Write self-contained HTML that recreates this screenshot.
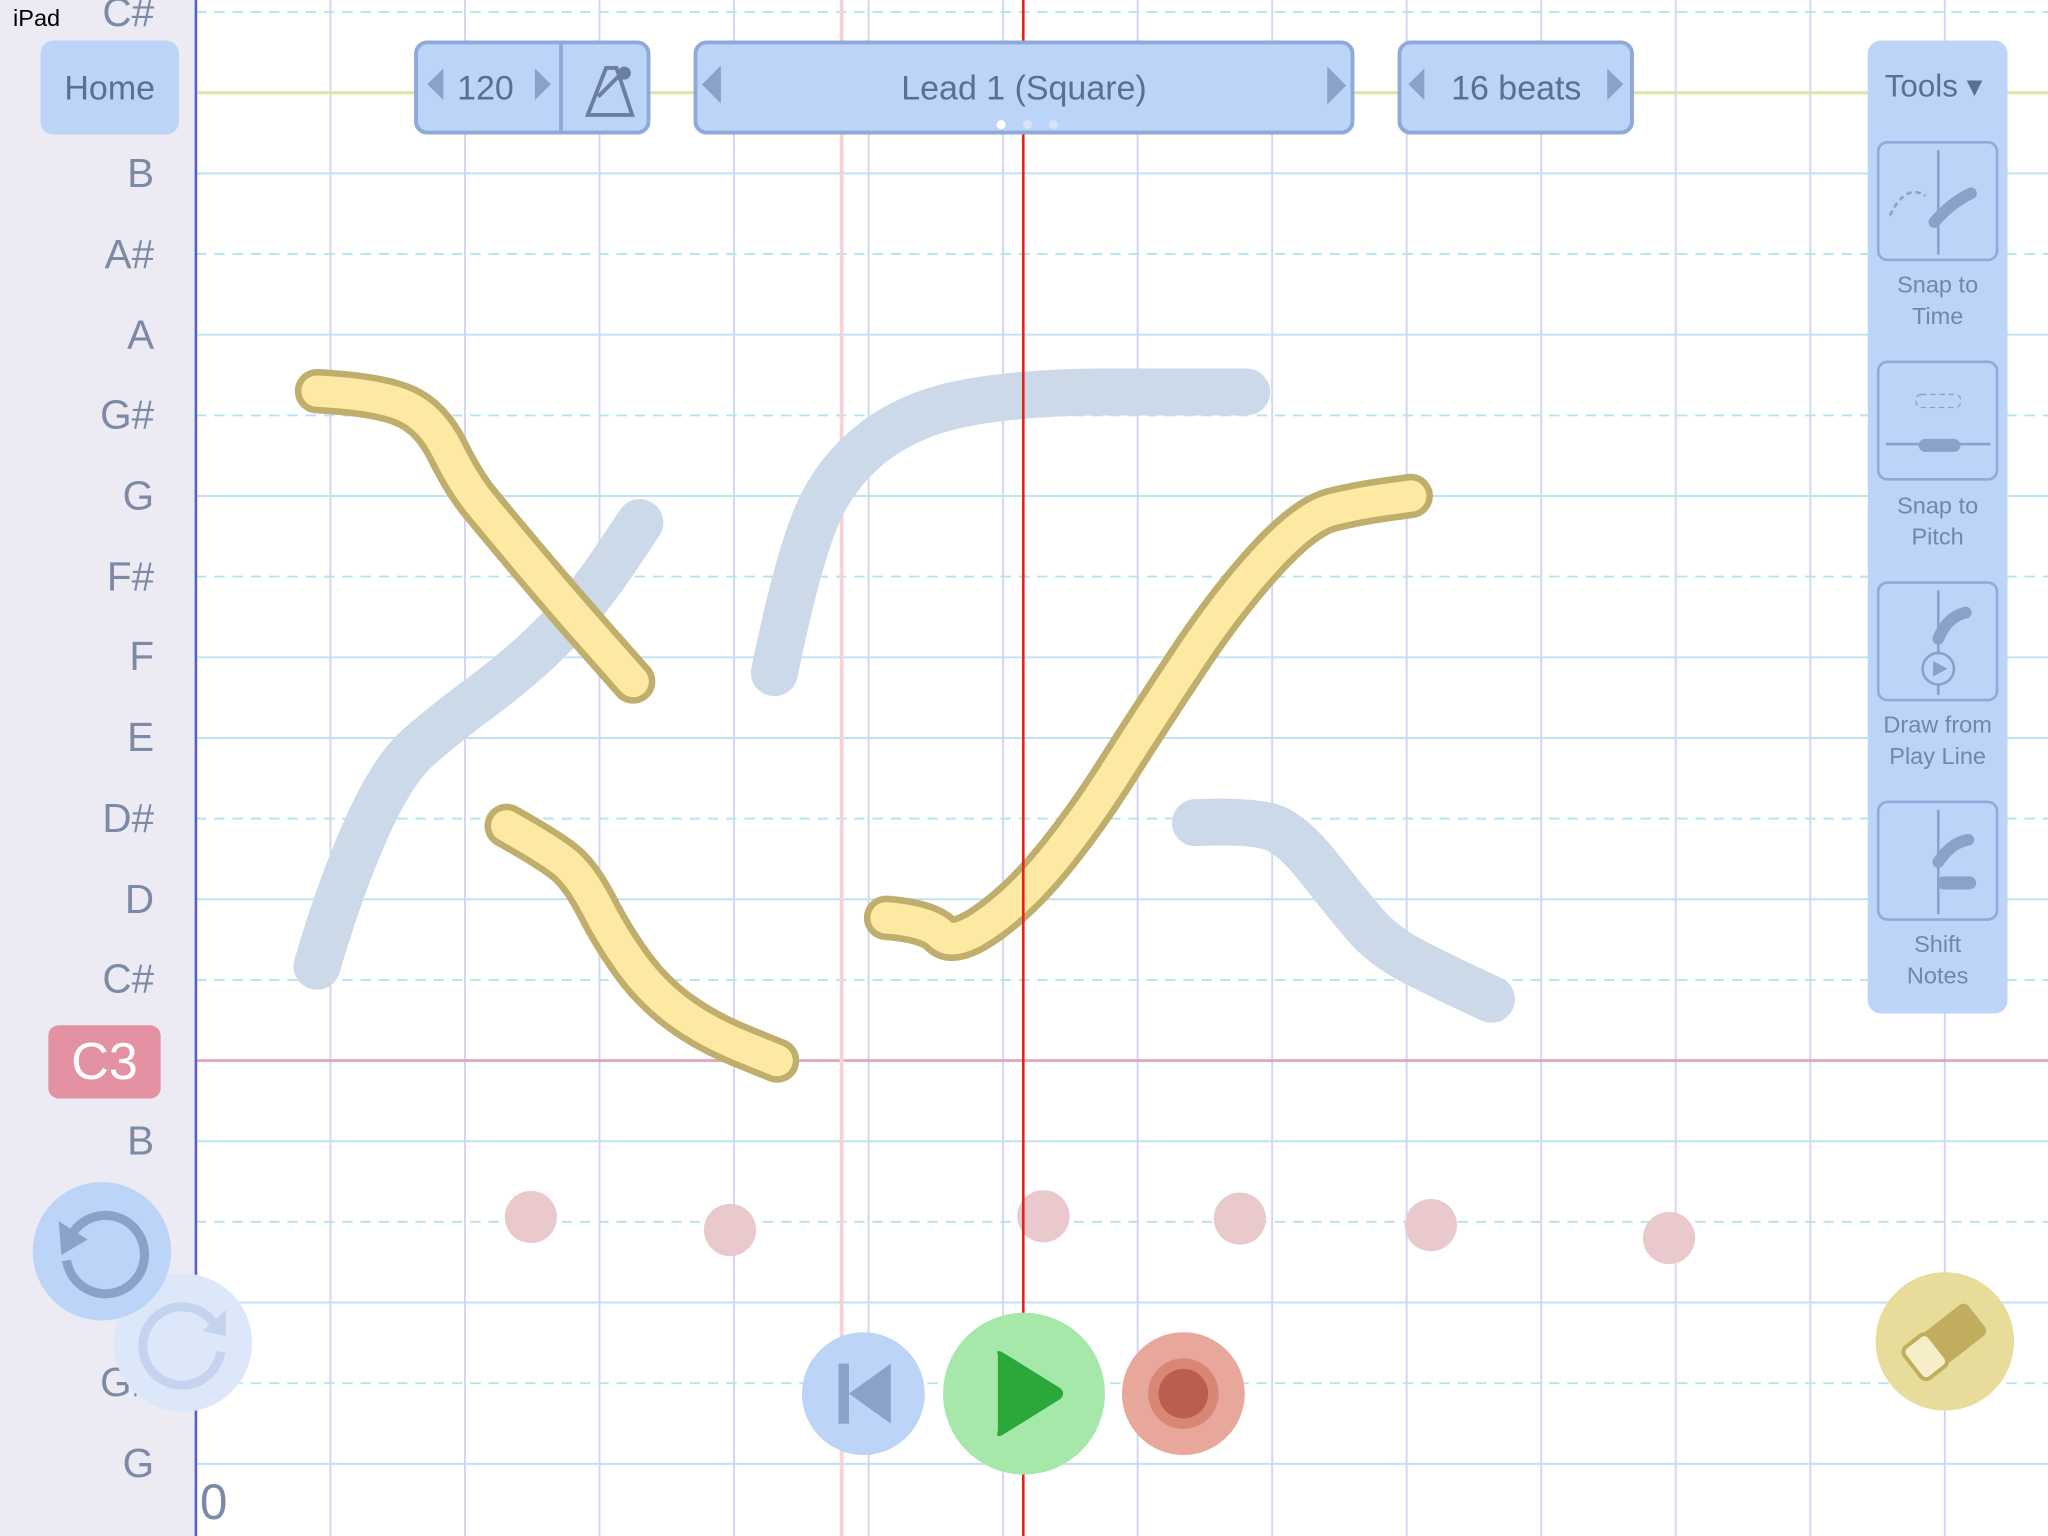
<!DOCTYPE html>
<html><head><meta charset="utf-8">
<style>
html,body{margin:0;padding:0;width:2048px;height:1536px;overflow:hidden;background:#fff;}
#wrap{position:absolute;left:0;top:0;width:1568px;height:1176px;transform:scale(1.306122);transform-origin:0 0;font-family:"Liberation Sans","DejaVu Sans",sans-serif;}
.abs{position:absolute;}
.lbl{position:absolute;right:1450px;font-size:31px;color:#7d8aa6;text-align:right;width:100px;}
.btn{position:absolute;background:#bcd4f8;border:3px solid #8fa9d8;border-radius:10px;box-sizing:border-box;color:#5b6f8f;font-size:26px;}
.tool{position:absolute;left:1437px;width:93px;height:92px;border:2px solid #8fa9d8;border-radius:8px;box-sizing:border-box;}
.tt{position:absolute;left:1430px;width:107px;text-align:center;font-size:18px;color:#7088ac;line-height:24px;}
</style></head><body>
<div id="wrap">
<svg id="chart" class="abs" style="left:0;top:0" width="1568" height="1176">
  <rect x="0" y="0" width="150" height="1176" fill="#eceaf3"/>
  <g id="grid"></g>
  <g id="strokes"></g>
  <g id="dots"></g>
  <line x1="150" y1="0" x2="150" y2="1176" stroke="#5a5fd0" stroke-width="2"/>
</svg>

<div class="abs" style="left:10px;top:4px;font-size:18px;color:#000">iPad</div>

<div class="btn" style="left:31px;top:31px;width:106px;height:72px;border:none;text-align:center;line-height:72px;">Home</div>

<div class="lbl" style="top:-8px">C#</div>
<div class="lbl" style="top:115px">B</div>
<div class="lbl" style="top:177px">A#</div>
<div class="lbl" style="top:239px">A</div>
<div class="lbl" style="top:300px">G#</div>
<div class="lbl" style="top:362px">G</div>
<div class="lbl" style="top:424px">F#</div>
<div class="lbl" style="top:485px">F</div>
<div class="lbl" style="top:547px">E</div>
<div class="lbl" style="top:609px">D#</div>
<div class="lbl" style="top:671px">D</div>
<div class="lbl" style="top:732px">C#</div>
<div class="abs" style="left:37px;top:785px;width:86px;height:56px;background:#e391a3;border-radius:8px;color:#fff;font-size:40px;text-align:center;line-height:56px;">C3</div>
<div class="lbl" style="top:856px">B</div>
<div class="lbl" style="top:1041px">G#</div>
<div class="lbl" style="top:1103px">G</div>
<div class="abs" style="left:153px;top:1130px;font-size:38px;color:#7d8aa6">0</div>

<div class="abs" style="left:87px;top:975px;width:106px;height:106px;border-radius:53px;background:#dce7fa;">
 <svg width="106" height="106"><path d="M78 40 A30 30 0 1 0 82 60" fill="none" stroke="#c5d4ee" stroke-width="7"/><path d="M86 28 L86 48 L68 44Z" fill="#c5d4ee"/></svg></div>
<div class="abs" style="left:25px;top:905px;width:106px;height:106px;border-radius:53px;background:#bcd4f8;">
 <svg width="106" height="106"><path d="M30 40 A30 30 0 1 1 26 60" fill="none" stroke="#8aa2ca" stroke-width="7"/><path d="M20 30 L22 56 L42 44Z" fill="#8aa2ca"/></svg></div>

<div class="btn" style="left:317px;top:31px;width:181px;height:72px;">
 <span class="abs" style="left:6px;top:12px;font-size:34px;color:#8aa2ca">⏴</span>
 <span class="abs" style="left:30px;top:18px">120</span>
 <span class="abs" style="left:86px;top:12px;font-size:34px;color:#8aa2ca">⏵</span>
 <div class="abs" style="left:108px;top:0;width:3px;height:66px;background:#8fa9d8"></div>
 <svg class="abs" style="left:124px;top:12px" width="44" height="44"><path d="M6 42 L20 6 L28 6 L40 42Z M14 28 L34 8" fill="none" stroke="#6d7f9e" stroke-width="3"/><circle cx="34" cy="10" r="5" fill="#6d7f9e"/></svg>
</div>
<div class="btn" style="left:531px;top:31px;width:506px;height:72px;">
 <span class="abs" style="left:2px;top:10px;font-size:40px;color:#8aa2ca">⏴</span>
 <div class="abs" style="left:0;width:500px;top:18px;text-align:center">Lead 1 (Square)</div>
 <span class="abs" style="right:2px;top:10px;font-size:40px;color:#8aa2ca">⏵</span>
 <div class="abs" style="left:229px;top:58px;width:7px;height:7px;border-radius:4px;background:#fff"></div>
 <div class="abs" style="left:249px;top:58px;width:7px;height:7px;border-radius:4px;background:#d6e4fb"></div>
 <div class="abs" style="left:269px;top:58px;width:7px;height:7px;border-radius:4px;background:#d6e4fb"></div>
</div>
<div class="btn" style="left:1070px;top:31px;width:181px;height:72px;">
 <span class="abs" style="left:4px;top:12px;font-size:34px;color:#8aa2ca">⏴</span>
 <span class="abs" style="left:38px;top:18px">16 beats</span>
 <span class="abs" style="right:4px;top:12px;font-size:34px;color:#8aa2ca">⏵</span>
</div>

<div class="abs" style="left:1430px;top:31px;width:107px;height:745px;background:#bcd4f8;border-radius:10px;"></div>
<div class="abs" style="left:1443px;top:52px;font-size:24px;color:#5b6f8f">Tools ▾</div>
<div class="tool" style="top:108px"><svg width="90" height="88"><line x1="45" y1="5" x2="45" y2="85" stroke="#8aa2ca" stroke-width="2"/><path d="M42 60 Q55 45 70 38" stroke="#8aa2ca" stroke-width="9" fill="none" stroke-linecap="round"/><path d="M8 55 Q20 30 35 40" stroke="#8aa2ca" stroke-width="2" stroke-dasharray="4 3" fill="none"/></svg></div>
<div class="tt" style="top:206px">Snap to<br>Time</div>
<div class="tool" style="top:276px"><svg width="90" height="88"><line x1="5" y1="62" x2="85" y2="62" stroke="#8aa2ca" stroke-width="2"/><rect x="30" y="58" width="32" height="10" rx="5" fill="#8aa2ca"/><rect x="28" y="24" width="34" height="10" rx="4" stroke="#8aa2ca" stroke-dasharray="4 3" fill="none"/></svg></div>
<div class="tt" style="top:375px">Snap to<br>Pitch</div>
<div class="tool" style="top:445px"><svg width="90" height="88"><line x1="45" y1="5" x2="45" y2="85" stroke="#8aa2ca" stroke-width="2"/><circle cx="45" cy="65" r="12" fill="#bcd4f8" stroke="#8aa2ca" stroke-width="2"/><path d="M41 59 L52 65 L41 71Z" fill="#8aa2ca"/><path d="M45 42 Q52 25 66 22" stroke="#8aa2ca" stroke-width="9" fill="none" stroke-linecap="round"/></svg></div>
<div class="tt" style="top:543px">Draw from<br>Play Line</div>
<div class="tool" style="top:613px"><svg width="90" height="88"><line x1="45" y1="5" x2="45" y2="85" stroke="#8aa2ca" stroke-width="2"/><path d="M45 45 Q55 30 68 28" stroke="#8aa2ca" stroke-width="9" fill="none" stroke-linecap="round"/><rect x="44" y="56" width="30" height="10" rx="5" fill="#8aa2ca"/></svg></div>
<div class="tt" style="top:711px">Shift<br>Notes</div>

<div class="abs" style="left:614px;top:1020px;width:94px;height:94px;border-radius:47px;background:#bcd4f8"><svg width="94" height="94"><rect x="28" y="24" width="8" height="46" fill="#8aa2ca"/><path d="M68 24 L68 70 L36 47Z" fill="#8aa2ca"/></svg></div>
<div class="abs" style="left:722px;top:1005px;width:124px;height:124px;border-radius:62px;background:#a6e8a9"><svg width="124" height="124"><path d="M42 32 Q40 28 45 30 L90 58 Q94 62 90 66 L45 94 Q40 96 42 90Z" fill="#2aa83a"/></svg></div>
<div class="abs" style="left:859px;top:1020px;width:94px;height:94px;border-radius:47px;background:#e8a79b"><div class="abs" style="left:20px;top:20px;width:54px;height:54px;border-radius:27px;background:#d98676"></div><div class="abs" style="left:28px;top:28px;width:38px;height:38px;border-radius:19px;background:#b85f4e"></div></div>
<div class="abs" style="left:1436px;top:974px;width:106px;height:106px;border-radius:53px;background:#e8dc9a"><svg width="106" height="106"><g transform="rotate(-38 53 53)"><rect x="22" y="38" width="62" height="30" rx="5" fill="#c0ae5e"/><rect x="22" y="38" width="24" height="30" rx="5" fill="#f5eec8" stroke="#c0ae5e" stroke-width="3"/></g></svg></div>
</div>

<script>
// axis: beats along x, semitones relative to C3 along y
const X0=150, BEAT=103, Y0=812, SEMI=61.75;
function xs(b){return X0+b*BEAT;}
function ys(p){return Y0-p*SEMI;}
const pitchRows=[13,12,11,10,9,8,7,6,5,4,3,2,1,0,-1,-2,-3,-4,-5,-6];
const sharpRows=[13,10,8,6,3,1,-2,-4,-6];
const beatLines=[1,2,3,4,5,6,7,8,9,10,11,12,13];
const yellow1=[[0.9,8.3],[1.36,8.26],[1.75,7.97],[1.99,7.16],[2.23,6.67],[2.72,5.7],[3.25,4.7]];
const yellow2=[[2.31,2.91],[2.62,2.62],[2.86,2.3],[3.11,1.49],[3.4,0.84],[3.79,0.36],[4.32,0]];
const yellow3=[[5.13,1.77],[5.44,1.73],[5.63,1.41],[6.12,1.98],[6.6,2.95],[7.09,4.24],[7.67,5.7],[8.25,6.75],[8.64,6.91],[9.03,7.0]];
const blue1=[[0.9,1.17],[1.07,2.14],[1.46,3.6],[1.84,4.16],[2.43,4.89],[2.91,5.7],[3.3,6.67]];
const blue2=[[4.3,4.81],[4.47,6.19],[4.76,7.32],[5.34,8.05],[6.21,8.29],[7.28,8.29],[7.81,8.29]];
const blue3=[[7.43,2.95],[7.86,2.98],[8.16,2.79],[8.54,1.98],[8.83,1.41],[9.32,1.0],[9.63,0.76]];
const dotBeats=[2.49,3.97,6.3,7.76,9.18,10.95];
const dotPitches=[-1.94,-2.1,-1.93,-1.96,-2.04,-2.2];
const playBeat=6.15, markerBeat=4.8;

const NS='http://www.w3.org/2000/svg';
function mk(tag,attrs,parent){const e=document.createElementNS(NS,tag);for(const k in attrs)e.setAttribute(k,attrs[k]);parent.appendChild(e);return e;}
const grid=document.getElementById('grid');
beatLines.forEach(b=>{
 const l=mk('line',{x1:xs(b),x2:xs(b),y1:0,y2:1176,stroke:'#d4d4f4','stroke-width':1.5},grid);
 
 
});
pitchRows.forEach(p=>{
 const sharp=sharpRows.indexOf(p)>=0;
 let col=sharp?'#b9e3ee':'#bfe2f2', w=1.5;
 if(p===0){col='#e0a2b8';w=2;}
 if(p===12){col='#dfe6a8';w=2.5;}
 const a={x1:150,x2:1568,y1:ys(p),y2:ys(p),stroke:col,'stroke-width':w};
 if(sharp)a['stroke-dasharray']='8 6';
 const l=mk('line',a,grid);
 
 
});
const mkl=mk('line',{x1:xs(markerBeat),x2:xs(markerBeat),y1:0,y2:1176,stroke:'#f6d4d4','stroke-width':3},grid);



function pathD(pts){
 const P=pts.map(p=>[xs(p[0]),ys(p[1])]);
 let d='M'+P[0][0]+' '+P[0][1];
 for(let i=1;i<P.length-1;i++){const mx=(P[i][0]+P[i+1][0])/2,my=(P[i][1]+P[i+1][1])/2;d+=' Q'+P[i][0]+' '+P[i][1]+' '+mx+' '+my;}
 const L=P[P.length-1];d+=' L'+L[0]+' '+L[1];return d;
}
const sg=document.getElementById('strokes');
[blue1,blue2,blue3].forEach(s=>{
 const p=mk('path',{d:pathD(s),fill:'none',stroke:'#cbd9e9','stroke-width':36,'stroke-linecap':'round','stroke-linejoin':'round'},sg);
 
 
});
[yellow1,yellow2,yellow3].forEach(s=>{
 const o=mk('path',{d:pathD(s),fill:'none',stroke:'#bfae6c','stroke-width':34,'stroke-linecap':'round','stroke-linejoin':'round'},sg);
 
 
 const p=mk('path',{d:pathD(s),fill:'none',stroke:'#fde9a1','stroke-width':24,'stroke-linecap':'round','stroke-linejoin':'round'},sg);
 
 
});
const dg=document.getElementById('dots');
dotBeats.forEach((b,i)=>{
 const c=mk('circle',{cx:xs(b),cy:ys(dotPitches[i]),r:20,fill:'#e9c9cc'},dg);
 
 
});
const pl=mk('line',{x1:xs(playBeat),x2:xs(playBeat),y1:0,y2:1176,stroke:'#e8201c','stroke-width':2},dg);


</script>
</body></html>
